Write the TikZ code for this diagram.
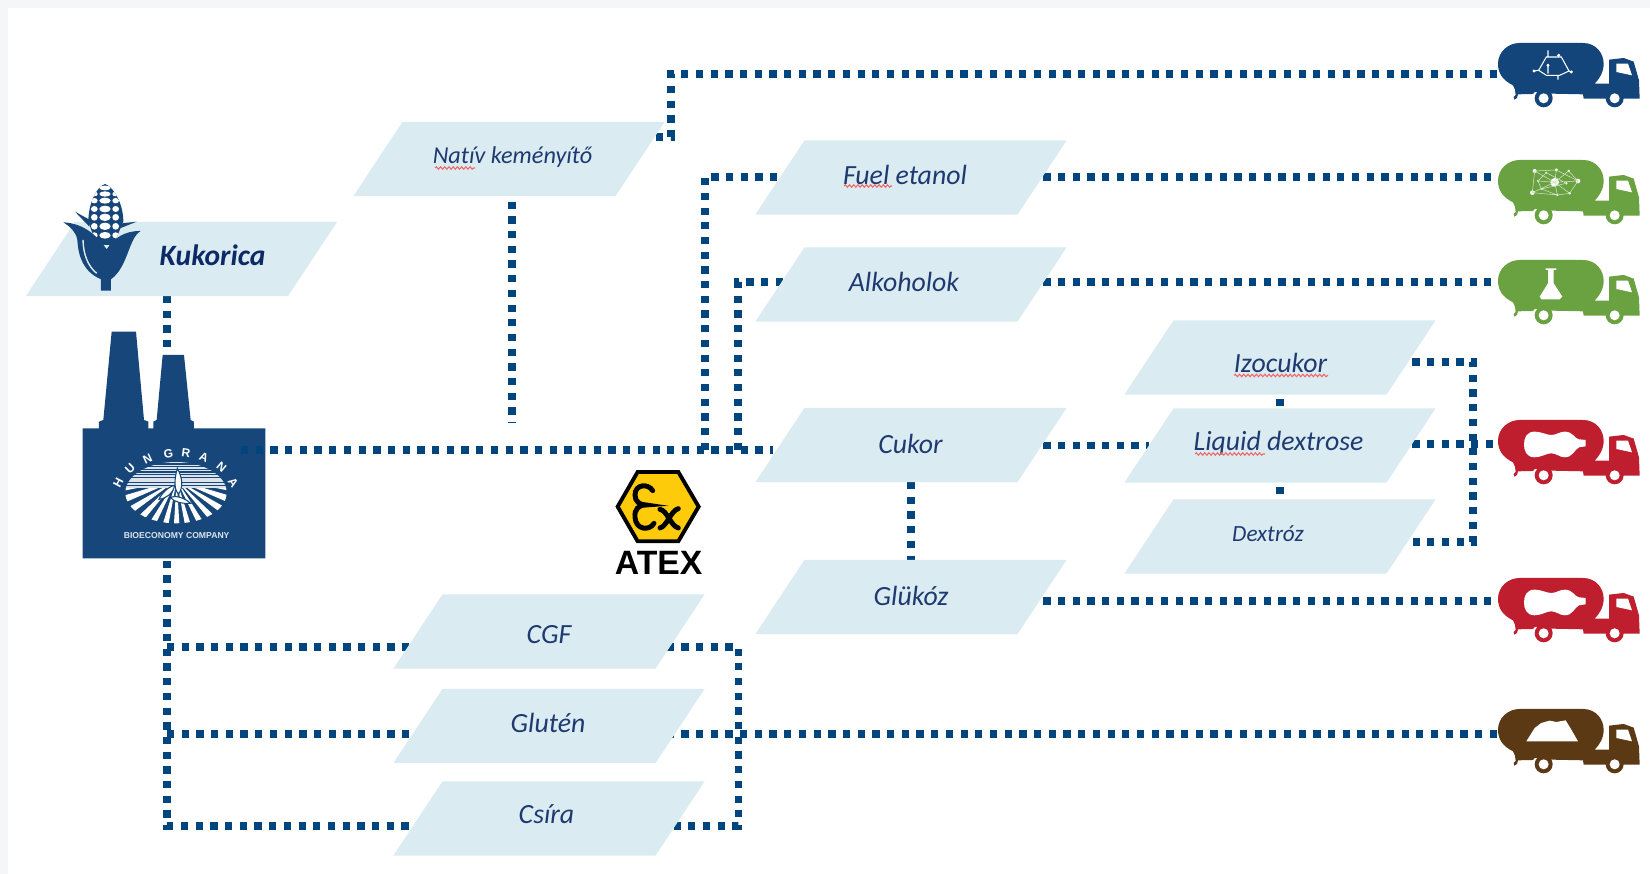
\documentclass[tikz,border=0pt]{standalone}
\usepackage{fontspec}
\setmainfont{Carlito}
\newfontfamily\arialfont{Liberation Sans}
\usetikzlibrary{shapes.geometric,backgrounds,decorations.pathmorphing}
\definecolor{pale}{HTML}{DAECF2}
\definecolor{linkblue}{HTML}{00457E}
\definecolor{factoryblue}{HTML}{17477A}
\definecolor{textblue}{HTML}{1F3A70}
\definecolor{kukblue}{HTML}{0B2A66}
\definecolor{truckblue}{HTML}{14457A}
\definecolor{truckgreen}{HTML}{6AA141}
\definecolor{truckred}{HTML}{BE1E2D}
\definecolor{truckbrown}{HTML}{5C3915}
\definecolor{atexyellow}{HTML}{FDCB0A}
\definecolor{edgegrey}{HTML}{F5F6F7}
\definecolor{spellred}{HTML}{F26666}
\tikzset{
  prod/.style={trapezium,trapezium left angle=56.5,trapezium right angle=123.5,
    fill=pale,inner xsep=1.065cm,inner ysep=.37cm,outer sep=0pt},
  prodtext/.style={inner sep=0pt,text=textblue,font=\fontsize{7.9}{9}\selectfont\itshape},
  link/.style={linkblue,line width=2.05pt,dash pattern=on 2.05pt off 2.13pt},
  squiggle/.style={spellred,line width=.3pt,decorate,
    decoration={snake,amplitude=.35pt,segment length=1.2pt}},
  logotext/.style={inner sep=0pt,text=white,font=\arialfont\bfseries\fontsize{3.4}{4}\selectfont},
  pics/truck/.style 2 args={code={
    \begin{scope}[scale=1/3,shift={(-55,-68)}]
      \fill[#1] (120,68) -- (310,68) .. controls (350,68) and (372,100) .. (372,130)
        .. controls (372,155) and (360,175) .. (345,190) -- (388,190) -- (388,118)
        -- (432,113) -- (462,124) -- (478,180) -- (480,235) -- (312,235) -- (310,222)
        -- (215,220) -- (165,215) -- (160,221) -- (115,222) -- (112,233) -- (104,238)
        -- (102,230) -- (108,224) -- (106,208) -- (100,195)
        .. controls (70,180) and (55,160) .. (55,130)
        .. controls (55,95) and (85,68) .. (120,68) -- cycle;
      \fill[white] (410,130) -- (445,130) -- (457,165) -- (410,155) -- cycle;
      \fill[#1] (192,234) circle (27) (405,234) circle (27);
      \fill[white] (192,234) circle (15) (405,234) circle (15);
      \fill[white] #2
    \end{scope}
  }}
}
% white pictures on the tanks, each one ends the \fill of the truck
\newcommand{\iconhex}{(163,152) circle (5) (205,135) circle (5) (237,105) circle (5) (275,155) circle (5);
  \draw[white,line width=.3pt] (177,150) -- (200,110) -- (245,110) -- (268,152) -- (240,165) -- (200,165) -- cycle
    (163,152) -- (177,150) (268,152) -- (275,155) (205,90) -- (205,110) (235,165) -- (235,178) (205,135) -- (205,160);}
\newcommand{\iconnet}{(225,135) circle (13) (165,101) circle (6) (230,98) circle (5) (267,101) circle (4)
  (295,131) circle (7) (260,138) circle (4) (270,168) circle (4) (233,173) circle (4) (158,166) circle (7)
  (185,155) circle (3) (175,131) circle (3) (200,106) circle (3);
  \draw[white!70!truckgreen,line width=.15pt] (165,101) -- (230,98) -- (295,131) -- (270,168) -- (233,173) -- (158,166) -- cycle
    (175,131) -- (225,135) -- (267,101) -- (295,131) -- (225,135) -- (233,173) (158,166) -- (225,135) -- (270,168)
    (165,101) -- (225,135) -- (230,98) (185,155) -- (260,138) -- (200,106) -- (175,131) -- (185,155) -- (233,173);}
\newcommand{\iconflask}{(198,93) -- (230,93) -- (230,98) -- (222,98) -- (222,138) -- (248,178) -- (240,186)
  -- (185,186) -- (180,178) -- (205,138) -- (205,98) -- (198,98) -- cycle;}
\newcommand{\iconbottle}{(165,103) .. controls (185,103) and (200,113) .. (215,113)
  .. controls (230,113) and (240,103) .. (255,103) .. controls (280,103) and (285,124) .. (298,126)
  -- (318,128) -- (318,147) -- (298,150) .. controls (285,156) and (280,180) .. (255,180)
  .. controls (240,180) and (230,168) .. (215,168) .. controls (200,168) and (185,180) .. (165,180)
  .. controls (140,180) and (133,160) .. (133,141) .. controls (133,120) and (142,103) .. (165,103) -- cycle;}
\newcommand{\iconpile}{(140,165) -- (165,125) -- (185,110) -- (210,103) -- (230,107) -- (258,102) -- (272,125) -- (295,165) -- cycle;}

\begin{document}
\begin{tikzpicture}[x=0.01cm,y=-0.01cm]
\useasboundingbox (0,0) rectangle (1650,874);
% the products
\foreach \name/\x/\y/\tx/\ty/\txt in {
    nativ/509/159/512.5/157/{\fontsize{6.9}{8}\selectfont Nat\kern0pt ív keményítő},
    fuel/911/177.5/905/175/{Fuel etanol},
    alkohol/911/284.5/904/281.5/{Alkoholok},
    cukor/911/445/910.5/444/{Cukor},
    glukoz/911/597/911/596/{Glükóz},
    izocukor/1280/357.5/1280.5/363/{Izocukor},
    liquid/1280/445.5/1278.5/443/{Liquid dextrose},
    dextroz/1280/536.5/1268/534/{\fontsize{6.6}{8}\selectfont Dextróz},
    cgf/549/631.5/549/635/{CGF},
    gluten/549/726/548/723/{Glutén},
    csira/549/818.5/546.5/814/{Csíra}}
{
    \node[prod] (\name) at (\x,\y) {};
    \node[prodtext] (\name t) at (\tx,\ty) {\txt};
}
\node[prod] (kukorica) at (181.5,259) {};
\node[prodtext,text=kukblue,font=\fontsize{8.4}{9}\selectfont\bfseries\itshape] (kukoricat) at (212.5,255.5) {Kukorica};
% spell check marks
\foreach \a/\b/\y in {435/475/168,844/892/186,1234/1328/375.5,1195/1265/454}
    \draw[squiggle] (\a,\y) -- (\b,\y);
% free ends of the connectors
\coordinate (tin1) at (1498,74);
\coordinate (tin2) at (1498,177);
\coordinate (tin3) at (1498,282);
\coordinate (tin4) at (1498,444);
\coordinate (tin5) at (1498,601);
\coordinate (tin6) at (1498,734);
\coordinate (trunk) at (167,826);
\coordinate (mainin) at (241,450);
\coordinate (topbend) at (671,137);
\coordinate (fuelbus) at (705,177);
\coordinate (alkbus) at (738,282);
\coordinate (rightbus) at (738.5,826);
\coordinate (cgfin) at (167,647);
\coordinate (glutin) at (167,734);
\coordinate (izobus) at (1473,362);
\coordinate (dexbus) at (1473,542);
\coordinate (nativend) at (512,423.5);
\begin{scope}[on background layer]
    \fill[edgegrey] (0,0) rectangle (1650,874);
    \fill[white] (8,8) rectangle (1650,874);
    \draw[link] (kukorica.south -| trunk) -- (trunk) -- (csira |- trunk);
    \draw[link] (cgfin) -- (cgf |- cgfin);
    \draw[link] (glutin) -- (gluten |- glutin);
    \draw[link] (gluten |- tin6) -- (tin6);
    \draw[link] (cgf |- cgfin) -- (rightbus |- cgfin) -- (rightbus) -- (csira |- rightbus);
    \draw[link,shorten <=1.6pt] (nativ.south -| nativend) -- (nativend);
    \draw[link] (nativ |- topbend) -- (topbend) -- (topbend |- tin1) -- (tin1);
    \draw[link] (fuelbus |- mainin) -- (fuelbus) -- (fuel |- fuelbus);
    \draw[link] (alkbus |- mainin) -- (alkbus) -- (alkohol |- alkbus);
    \draw[link] (fuel |- tin2) -- (tin2);
    \draw[link] (alkohol |- tin3) -- (tin3);
    \draw[link] (cukor |- liquid) -- (liquid);
    \draw[link] (liquid |- tin4) -- (tin4);
    \draw[link] (glukoz |- tin5) -- (tin5);
    \draw[link] (cukor.south) -- (glukoz.north);
    \draw[link,shorten <=1.3pt] (izocukor.south) -- (liquid.north);
    \draw[link,shorten <=1.3pt] (liquid.south) -- (dextroz.north);
    \draw[link] (izocukor |- izobus) -- (izobus) -- (dexbus) -- (dextroz |- dexbus);
\end{scope}
% the trucks
\foreach \col/\x/\y/\icon in {truckblue/1498/43/\iconhex,truckgreen/1498/160/\iconnet,
    truckgreen/1498/260/\iconflask,truckred/1498/420/\iconbottle,
    truckred/1498/578/\iconbottle,truckbrown/1498/709/\iconpile}
    \pic at (\x,\y) {truck={\col}{\icon}};
% corn and factory, in the reference's zoomed pixels
\begin{scope}[scale=1/3,shift={(0,480)}]
    \begin{scope}
        \clip (315,72) .. controls (290,80) and (265,130) .. (265,185) -- (290,255) -- (340,255) -- (370,185)
            .. controls (370,130) and (340,80) .. (315,72) -- cycle;
        \fill[factoryblue] (250,60) rectangle (385,260);
        \foreach \y/\r in {84/7,102/8,122/9,147/10,172/11,199/11,226/10}
        {
            \fill[white] (315,\y) ellipse (17 and \r);
            \fill[white] (283,\y) ellipse (10 and \r-1);
            \fill[white] (347,\y) ellipse (10 and \r-1);
        }
    \end{scope}
    \fill[factoryblue] (225,155) -- (270,180) -- (268,200) -- cycle (410,185) -- (368,190) -- (360,205) -- cycle;
    \fill[factoryblue] (190,187) .. controls (250,190) and (290,225) .. (320,268)
        .. controls (340,235) and (375,212) .. (422,213)
        .. controls (385,235) and (385,320) .. (333,358) -- (333,392) -- (303,392) -- (303,358)
        .. controls (250,335) and (235,290) .. (232,240) .. controls (228,215) and (210,200) .. (190,187) -- cycle;
    \draw[pale,line width=.4pt] (249,240) .. controls (250,285) and (265,320) .. (290,340);
    \fill[factoryblue] (248,805) -- (297,805) -- (297,785) -- (310,780) -- (335,515) -- (408,515)
        -- (432,780) -- (445,785) -- (445,805) -- (460,805) -- (460,785) -- (470,780)
        -- (488,585) -- (552,585) -- (572,780) -- (582,785) -- (582,805) -- (796,805)
        -- (796,1195) -- (248,1195) -- cycle;
\end{scope}
% logo on the factory
\begin{scope}[scale=1/3,shift={(300,1320)}]
    \begin{scope}
        \clip (228,158) ellipse (152 and 92);
        \foreach \y/\w in {68/.2,76/.25,84/.3,92/.35,100/.4,108/.45,116/.5,124/.55,132/.6,140/.65}
            \draw[white!85!factoryblue,line width=\w pt] (70,\y) -- (390,\y);
        \begin{scope}
            \clip (70,146) rectangle (390,255);
            \begin{scope}[shift={(230,120)}]
                \foreach \a in {8,20,33,47,61,76,90,104,119,133,147,160,172}
                    \fill[white] (0,0) -- (\a-3.5:300) -- (\a+3.5:300) -- cycle;
            \end{scope}
        \end{scope}
    \end{scope}
    \fill[white,draw=factoryblue,line width=.3pt] (232,85) .. controls (222,120) and (222,150) .. (236,162)
        .. controls (250,140) and (248,115) .. (232,85) -- cycle;
    \fill[white,draw=factoryblue,line width=.3pt] (224,136) .. controls (205,140) and (185,160) .. (177,178)
        .. controls (200,175) and (220,160) .. (224,136) -- cycle;
    \fill[white,draw=factoryblue,line width=.3pt] (210,172) .. controls (230,165) and (255,175) .. (272,190)
        .. controls (250,192) and (225,188) .. (210,172) -- cycle;
    \foreach \l/\x/\y/\r [count=\i] in {H/55/128/62,U/90/85/45,N/143/57/25,G/205/40/8,R/258/38/-8,A/312/52/-22,N/365/80/-40,A/400/128/-55}
        \node[logotext,rotate=\r] (logo\i) at (\x,\y) {\l};
    \node[logotext,font=\arialfont\bfseries\fontsize{2.45}{3}\selectfont,text=white!85!factoryblue] (bioeconomy) at (230,288) {BIOECONOMY COMPANY};
\end{scope}
% ATEX sign
\begin{scope}[scale=1/3,shift={(1740,1320)}]
    \draw[black,fill=atexyellow,line width=1.1pt] (113,200) -- (173,96) -- (295,96) -- (356,200) -- (295,304) -- (173,304) -- cycle;
    \draw[black,line width=1.4pt,line cap=round] (218,152) .. controls (205,130) and (165,132) .. (165,165)
        .. controls (165,185) and (180,195) .. (198,195) .. controls (175,195) and (163,208) .. (165,232)
        .. controls (168,272) and (210,272) .. (222,250);
    \draw[black,line width=1.4pt,line cap=round] (240,208) .. controls (262,212) and (272,258) .. (295,264)
        (295,206) .. controls (272,212) and (262,258) .. (240,264);
    \node[inner sep=0pt,font=\arialfont\bfseries\fontsize{9.6}{10}\selectfont] (atextext) at (236,368) {ATEX};
\end{scope}
% main line is on top of the factory
\draw[link,shorten >=2pt] (mainin) -- (cukor.west |- mainin);
\end{tikzpicture}
\end{document}
